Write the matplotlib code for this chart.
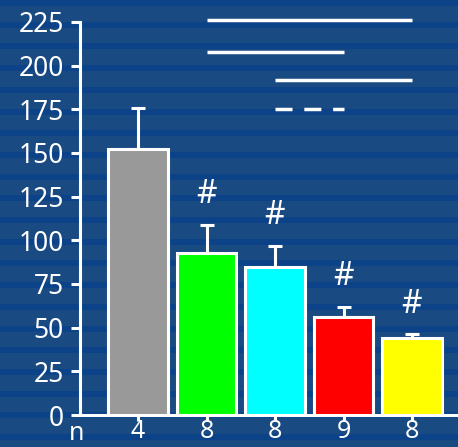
import numpy as np
import matplotlib.pyplot as plt
from matplotlib.patches import Rectangle

plt.rcParams['font.family'] = ['Noto Sans', 'DejaVu Sans']

# data
n_labels = ['4', '8', '8', '9', '8']
means = [152, 93, 85, 56, 44]
errs = [24, 16, 12, 6, 2.5]
colors = ['#999999', '#00ff00', '#00ffff', '#ff0000', '#ffff00']
sig = ['', '#', '#', '#', '#']
# comparison lines: (start bar, end bar, height, dashed)
comp_lines = [(1, 4, 226, False), (1, 3, 208, False), (2, 4, 192, False), (2, 3, 175, True)]

W, H = 458, 447
fig = plt.figure(figsize=(W / 100, H / 100), dpi=100)
fig.patch.set_facecolor('#1a4a82')

# striped background
period = 21.7
k = 0
while k * period < H:
    y0 = H - k * period - 6
    fig.add_artist(Rectangle((0, y0 / H), 1, 6 / H, transform=fig.transFigure,
                             facecolor='#0b4288', edgecolor='none', zorder=0))
    k += 1

ax = fig.add_axes([80 / W, 32 / H, 1 - 80 / W, 415 / H])
ax.set_facecolor('none')
ax.set_ylim(0, 415 / 1.747)
ax.set_xlim(-58 / 68.5, (W - 138) / 68.5)

x = np.arange(len(means))
lw = 2.2
ax.errorbar(x, means, yerr=[np.zeros(len(errs)), errs], fmt='none', ecolor='white',
            elinewidth=lw, capsize=5, capthick=lw, zorder=2)
ax.bar(x, means, width=0.87, color=colors, edgecolor='white', linewidth=lw, zorder=3)

for xi, m, e, s in zip(x, means, errs, sig):
    if s:
        ax.text(xi, m + e + 17, s, color='white', fontsize=23, ha='center', va='center',
                fontweight='light')

for a, b, h, dashed in comp_lines:
    ax.plot([a, b], [h, h], color='white', lw=2.5, clip_on=False,
            linestyle=(0, (4.9, 3.4)) if dashed else '-', solid_capstyle='butt',
            dash_capstyle='butt')

for sp in ['top', 'right']:
    ax.spines[sp].set_visible(False)
for sp in ['left', 'bottom']:
    ax.spines[sp].set_color('white')
    ax.spines[sp].set_linewidth(lw)
ax.spines['left'].set_bounds(0, 225)

ax.set_yticks(np.arange(0, 226, 25))
ax.set_xticks(x)
ax.set_xticklabels(n_labels)
ax.tick_params(axis='both', colors='white', labelsize=19, width=lw, length=6.5, pad=5)
ax.tick_params(axis='x', length=4, pad=-1, labelsize=18)
ax.text(-0.9, -10.5, 'n', color='white', fontsize=18, ha='center', va='center', clip_on=False)

fig.savefig('out.png', dpi=100, facecolor=fig.get_facecolor())
